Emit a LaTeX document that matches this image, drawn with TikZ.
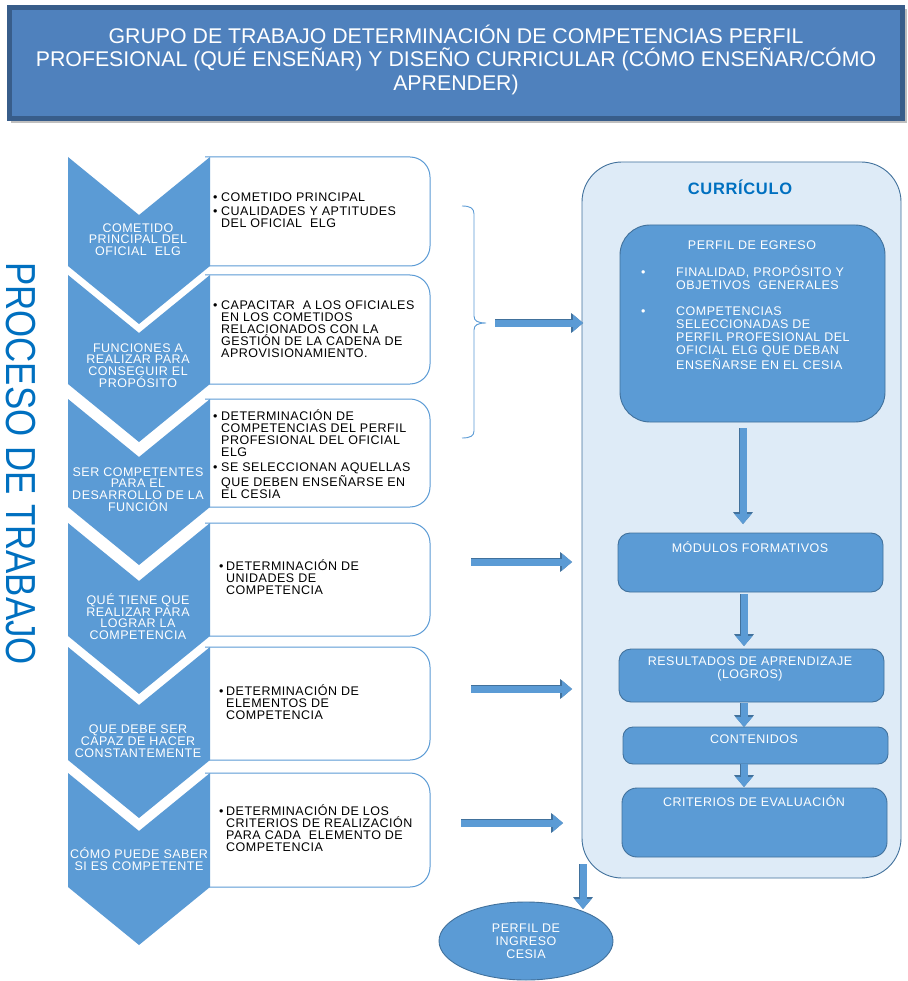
\documentclass[tikz,border=0pt]{standalone}
\usepackage{fontspec}
\usepackage{graphicx}
\setmainfont{Liberation Sans}
\newfontfamily\lsfont{Liberation Sans}[LetterSpace=4]
\usetikzlibrary{arrows.meta,shapes.geometric}
\definecolor{chev}{HTML}{5B9BD5}
\definecolor{chevline}{HTML}{41719C}
\definecolor{titlefill}{HTML}{4F81BD}
\definecolor{titleline}{HTML}{385D8A}
\definecolor{panelfill}{HTML}{DEEBF7}
\definecolor{proc}{HTML}{0070C0}
\definecolor{boxline}{HTML}{5B9BD5}
\begin{document}
\begin{tikzpicture}[x=1pt,y=-1pt,
  boxtxt/.style={inner sep=0pt, anchor=north west, align=left, text=black, font=\lsfont\fontsize{12.5}{12}\selectfont},
  chevtxt/.style={inner sep=0pt, align=center, text=white, font=\lsfont\fontsize{12.5}{11.7}\selectfont},
  whitetxt/.style={inner sep=0pt, align=center, text=white, font=\lsfont\fontsize{12.5}{13}\selectfont},
  innerbox/.style={draw=chevline, fill=chev, line width=0.9pt, inner sep=0pt, minimum width=265pt},
  blockarr/.style={draw=chev, line width=7pt, -{Triangle[length=10pt,width=17pt,line width=0pt]},
     preaction={draw=chevline, line width=8.6pt, -{Triangle[length=11.8pt,width=19.8pt,line width=0pt]}}},
]
\useasboundingbox (0,0) rectangle (907,981);
\fill[white] (0,0) rectangle (907,981);

% title
\fill[black!25] (11,9) rectangle (907,123);
\node[draw=titleline, line width=5pt, fill=titlefill, minimum width=893pt, minimum height=111pt, inner sep=0pt] (title) at (456,63) {};
\node[inner sep=0pt, align=center, text=white, font=\fontsize{21.3}{23.3}\selectfont] (titletext) at (456,59.7)
 {GRUPO DE TRABAJO DETERMINACIÓN DE COMPETENCIAS PERFIL\\PROFESIONAL (QUÉ ENSEÑAR) Y DISEÑO CURRICULAR (CÓMO ENSEÑAR/CÓMO\\APRENDER)};

% vertical label
\node[rotate=-90, text=proc, inner sep=0pt, font=\fontsize{42}{42}\selectfont] (proc) at (20.5,463.5) {\scalebox{0.83}[1]{PROCESO DE TRABAJO}};

% boxes right of chevrons
\foreach \T/\B in {157/266,275/384,399/507,523/636,647/760,773/887}{
  \draw[draw=boxline, line width=1pt, fill=white] (205,\T) -- (410,\T) .. controls (421,\T) and (430,{\T+9}) .. (430,{\T+20}) -- (430,{\B-20}) .. controls (430,{\B-9}) and (421,\B) .. (410,\B) -- (205,\B);
}
% chevrons
\foreach \T/\B in {157/266,275/384,399/507,523/636,647/760,773/887}{
  \fill[chev] (68,\T) -- (139,{\T+58}) -- (210,\T) -- (210,\B) -- (139,{\B+58}) -- (68,\B) -- cycle;
}

% chevron texts
\node[chevtxt] (c1) at (138,239.5) {COMETIDO\\PRINCIPAL DEL\\OFICIAL\ \ ELG};
\node[chevtxt] (c2) at (138,365.5) {FUNCIONES A\\REALIZAR PARA\\CONSEGUIR EL\\PROPÓSITO};
\node[chevtxt] (c3) at (138,489.5) {SER COMPETENTES\\PARA EL\\DESARROLLO DE LA\\FUNCIÓN};
\node[chevtxt] (c4) at (138,616.5) {QUÉ TIENE QUE\\REALIZAR PARA\\LOGRAR LA\\COMPETENCIA};
\node[chevtxt] (c5) at (138,741) {QUE DEBE SER\\CAPAZ DE HACER\\CONSTANTEMENTE};
\node[chevtxt] (c6) at (139,859) {CÓMO PUEDE SABER\\SI ES COMPETENTE};

% box texts
\node[boxtxt] (b1) at (213,189.5) {\rule{0pt}{12pt}\makebox[8pt][l]{•}COMETIDO PRINCIPAL\\[2pt]\makebox[8pt][l]{•}CUALIDADES Y APTITUDES\\\hspace*{8pt}DEL OFICIAL\ \ ELG};
\node[boxtxt] (b2) at (213,297.5) {\rule{0pt}{12pt}\makebox[8pt][l]{•}CAPACITAR\ \ A LOS OFICIALES\\\hspace*{8pt}EN LOS COMETIDOS\\\hspace*{8pt}RELACIONADOS CON LA\\\hspace*{8pt}GESTIÓN DE LA CADENA DE\\\hspace*{8pt}APROVISIONAMIENTO.};
\node[boxtxt] (b3) at (213,408.5) {\rule{0pt}{12pt}\makebox[8pt][l]{•}DETERMINACIÓN DE\\\hspace*{8pt}COMPETENCIAS DEL PERFIL\\\hspace*{8pt}PROFESIONAL DEL OFICIAL\\\hspace*{8pt}ELG\\[3pt]\makebox[8pt][l]{•}SE SELECCIONAN AQUELLAS\\\hspace*{8pt}QUE DEBEN ENSEÑARSE EN\\\hspace*{8pt}EL CESIA};
\node[boxtxt] (b4) at (219,558.5) {\rule{0pt}{12pt}\makebox[7pt][l]{•}DETERMINACIÓN DE\\\hspace*{7pt}UNIDADES DE\\\hspace*{7pt}COMPETENCIA};
\node[boxtxt] (b5) at (219,683.5) {\rule{0pt}{12pt}\makebox[7pt][l]{•}DETERMINACIÓN DE\\\hspace*{7pt}ELEMENTOS DE\\\hspace*{7pt}COMPETENCIA};
\node[boxtxt] (b6) at (219,803.5) {\rule{0pt}{12pt}\makebox[7pt][l]{•}DETERMINACIÓN DE LOS\\\hspace*{7pt}CRITERIOS DE REALIZACIÓN\\\hspace*{7pt}PARA CADA\ \ ELEMENTO DE\\\hspace*{7pt}COMPETENCIA};

% brace
\draw[boxline, line width=0.9pt] (462,206) .. controls (470,206) and (474,208) .. (474,214) -- (474,316)
   .. controls (474,321) and (478,323) .. (486,323) .. controls (478,323) and (474,325) .. (474,330)
   -- (474,431) .. controls (474,436) and (470,438) .. (462,438);
\coordinate (brtip) at (486,323);

% curriculum panel
\node[draw=chevline, fill=panelfill, line width=0.9pt, rounded corners=40pt, minimum width=319pt, minimum height=716pt, inner sep=0pt] (curr) at (741.5,520) {};
\node[inner sep=0pt, text=proc, font=\lsfont\bfseries\fontsize{16.5}{16.5}\selectfont] (currt) at (740,187) {CURRÍCULO};

\node[innerbox, rounded corners=30pt, minimum height=197pt] (perfil) at (752.5,323.5) {};
\node[whitetxt] (perfilt) at (752,245) {PERFIL DE EGRESO};
\node[whitetxt, anchor=north west, align=left] (perfilb) at (641,264.5)
 {\rule{0pt}{12pt}\makebox[35pt][l]{•}FINALIDAD, PROPÓSITO Y\\\hspace*{35pt}OBJETIVOS\ \ GENERALES\\[13pt]\makebox[35pt][l]{•}COMPETENCIAS\\\hspace*{35pt}SELECCIONADAS DE\\\hspace*{35pt}PERFIL PROFESIONAL DEL\\\hspace*{35pt}OFICIAL ELG QUE DEBAN\\\hspace*{35pt}ENSEÑARSE EN EL CESIA};

\node[innerbox, rounded corners=12pt, minimum height=59pt] (modulos) at (750.5,562.5) {};
\node[whitetxt] (modulost) at (750,547) {MÓDULOS FORMATIVOS};
\node[innerbox, rounded corners=12pt, minimum height=53pt] (result) at (751.5,675.5) {};
\node[whitetxt] (resultt) at (750,668.5) {RESULTADOS DE APRENDIZAJE\\(LOGROS)};
\node[innerbox, rounded corners=10pt, minimum height=37pt] (conten) at (755.5,745.5) {};
\node[whitetxt] (content) at (754,739) {CONTENIDOS};
\node[innerbox, rounded corners=15pt, minimum height=69pt] (crit) at (754.5,822.5) {};
\node[whitetxt] (critt) at (754,801) {CRITERIOS DE EVALUACIÓN};

% ellipse
\node[ellipse, draw=chevline, fill=chev, line width=0.9pt, minimum width=174pt, minimum height=78pt, inner sep=0pt, align=center, text=white, font=\lsfont\fontsize{12.5}{13}\selectfont] (ingreso) at (526,941) {PERFIL DE\\INGRESO\\CESIA};

% arrow coordinates
\coordinate (a1s) at (495,323);  \coordinate (a1e) at (583,323);
\coordinate (a2s) at (471,562);  \coordinate (a2e) at (572,562);
\coordinate (a3s) at (471,689);  \coordinate (a3e) at (572,689);
\coordinate (a4s) at (461,823);  \coordinate (a4e) at (563,823);
\coordinate (d1s) at (743,428);  \coordinate (d1e) at (743,524);
\coordinate (d2s) at (744,594);  \coordinate (d2e) at (744,646);
\coordinate (d3s) at (744,703);  \coordinate (d3e) at (744,727);
\coordinate (d4s) at (744,764);  \coordinate (d4e) at (744,787);
\coordinate (d5s) at (583,864);  \coordinate (d5e) at (583,909);

\draw[blockarr] (a1s) -- (a1e);
\draw[blockarr] (a2s) -- (a2e);
\draw[blockarr] (a3s) -- (a3e);
\draw[blockarr] (a4s) -- (a4e);
\draw[blockarr] (d1s) -- (d1e);
\draw[blockarr] (d2s) -- (d2e);
\draw[blockarr] (d3s) -- (d3e);
\draw[blockarr] (d4s) -- (d4e);
\draw[blockarr] (d5s) -- (d5e);
\end{tikzpicture}
\end{document}
